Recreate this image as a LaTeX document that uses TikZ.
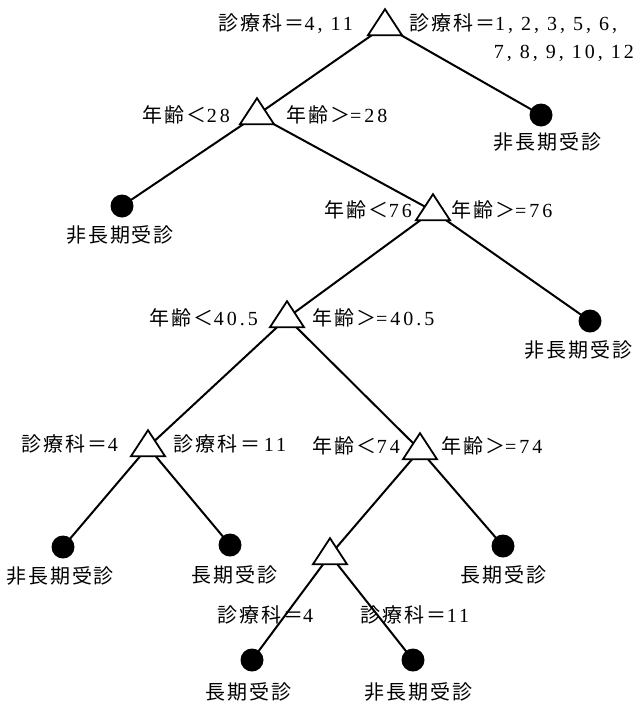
\documentclass[tikz,border=0pt]{standalone}
\usepackage{fontspec}
\newfontfamily\cjkfont{Noto Sans CJK JP}[LetterSpace=10]
\newfontfamily\latfont{Liberation Serif}[LetterSpace=15]
\newcommand{\jtxt}[1]{{\cjkfont #1}}
\usetikzlibrary{shapes.geometric,backgrounds}
\begin{document}
\begin{tikzpicture}[x=1pt,y=-1pt,
  tri/.style={draw, fill=white, line width=1.8pt, isosceles triangle,
    shape border rotate=90, isosceles triangle stretches,
    minimum width=34pt, minimum height=26pt, inner sep=0pt},
  leaf/.style={circle, fill=black, minimum size=23pt, inner sep=0pt},
  conn/.style={line width=2pt},
  lab/.style={font=\fontsize{20}{22}\selectfont\latfont, inner sep=0pt},
  ll/.style={lab, anchor=east},
  rl/.style={lab, anchor=west}]
\useasboundingbox (0,0) rectangle (636,705);
% split nodes
\node[tri] (t1) at (385,26) {};
\node[tri] (t2) at (257,115) {};
\node[tri] (t3) at (433,211) {};
\node[tri] (t4) at (287,318) {};
\node[tri] (t5) at (148,447) {};
\node[tri] (t6) at (420,450) {};
\node[tri] (t7) at (330,555) {};
% leaves
\node[leaf] (l1) at (541,115) {};
\node[leaf] (l2) at (122,206) {};
\node[leaf] (l3) at (590,321) {};
\node[leaf] (l4) at (63,547) {};
\node[leaf] (l5) at (230,545) {};
\node[leaf] (l6) at (503,546) {};
\node[leaf] (l7) at (252,660) {};
\node[leaf] (l8) at (413,660) {};
% connectors
\begin{pgfonlayer}{background}
\draw[conn] (t1.center) -- (t2.center);
\draw[conn] (t1.center) -- (l1.center);
\draw[conn] (t2.center) -- (l2.center);
\draw[conn] (t2.center) -- (t3.center);
\draw[conn] (t3.center) -- (t4.center);
\draw[conn] (t3.center) -- (l3.center);
\draw[conn] (t4.center) -- (t5.center);
\draw[conn] (t4.center) -- (t6.center);
\draw[conn] (t5.center) -- (l4.center);
\draw[conn] (t5.center) -- (l5.center);
\draw[conn] (t6.center) -- (t7.center);
\draw[conn] (t6.center) -- (l6.center);
\draw[conn] (t7.center) -- (l7.center);
\draw[conn] (t7.center) -- (l8.center);
\end{pgfonlayer}
% split labels
\node[ll] (a1) at (353,24) {\jtxt{診療科＝}4, 11};
\node[rl] (b1) at (409,24) {\jtxt{診療科＝}1, 2, 3, 5, 6,};
\node[lab, anchor=east] (b1x) at (634,53) {7, 8, 9, 10, 12};
\node[ll] (a2) at (230,115) {\jtxt{年齢＜}28};
\node[rl] (b2) at (286,115) {\jtxt{年齢＞}=28};
\node[ll] (a3) at (412,210) {\jtxt{年齢＜}76};
\node[rl] (b3) at (451,210) {\jtxt{年齢＞}=76};
\node[ll] (a4) at (258,318) {\jtxt{年齢＜}40.5};
\node[rl] (b4) at (312,318) {\jtxt{年齢＞}=40.5};
\node[ll] (a5) at (118,444) {\jtxt{診療科＝}4};
\node[rl] (b5) at (173,444) {\jtxt{診療科}\,\jtxt{＝}\,11};
\node[ll] (a6) at (400,446) {\jtxt{年齢＜}74};
\node[rl] (b6) at (441,446) {\jtxt{年齢＞}=74};
\node[lab] (a7) at (265,615) {\jtxt{診療科＝}4};
\node[lab] (b7) at (415,615) {\jtxt{診療科＝}11};
% leaf labels
\node[lab] (m1) at (547,142) {\jtxt{非長期受診}};
\node[lab] (m2) at (120,235) {\jtxt{非長期受診}};
\node[lab] (m3) at (578,350) {\jtxt{非長期受診}};
\node[lab] (m4) at (60,576) {\jtxt{非長期受診}};
\node[lab] (m5) at (234,575) {\jtxt{長期受診}};
\node[lab] (m6) at (503,575) {\jtxt{長期受診}};
\node[lab] (m7) at (248,692) {\jtxt{長期受診}};
\node[lab] (m8) at (418,692) {\jtxt{非長期受診}};
\end{tikzpicture}
\end{document}
